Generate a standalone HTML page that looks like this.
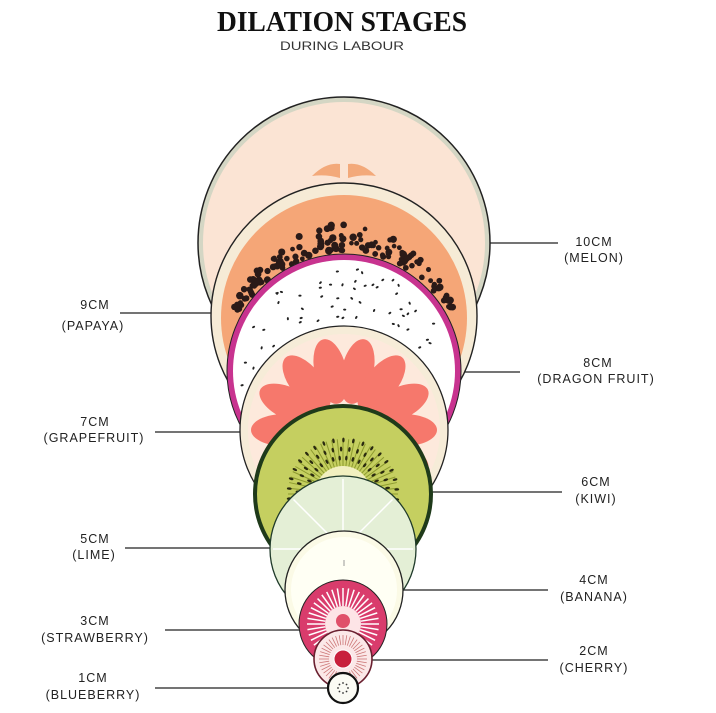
<!DOCTYPE html>
<html><head><meta charset="utf-8"><style>
html,body{margin:0;padding:0;background:#fff;}
svg{display:block;}
.l{font-family:"Liberation Sans",sans-serif;font-size:12.5px;letter-spacing:1px;fill:#222;text-anchor:middle;}
</style></head><body>
<svg id="s" width="716" height="713" viewBox="0 0 716 713" xmlns="http://www.w3.org/2000/svg">
<text x="342" y="31" text-anchor="middle" font-family="Liberation Serif,serif" font-weight="bold" font-size="29" textLength="250" lengthAdjust="spacingAndGlyphs" fill="#111">DILATION STAGES</text>
<text x="342" y="50" text-anchor="middle" font-family="Liberation Sans,sans-serif" font-size="11.5" fill="#333" textLength="124" lengthAdjust="spacingAndGlyphs">DURING LABOUR</text>
<g stroke="#222" stroke-width="1.3">
<line x1="488" y1="243" x2="558" y2="243"/>
<line x1="120" y1="313" x2="213" y2="313"/>
<line x1="458" y1="372" x2="520" y2="372"/>
<line x1="155" y1="432" x2="242" y2="432"/>
<line x1="430" y1="492" x2="562" y2="492"/>
<line x1="125" y1="548" x2="272" y2="548"/>
<line x1="402" y1="590" x2="548" y2="590"/>
<line x1="165" y1="630" x2="302" y2="630"/>
<line x1="372" y1="660" x2="548" y2="660"/>
<line x1="155" y1="688" x2="330" y2="688"/>
</g>
<g id="fr"></g>
<text class="l" x="594" y="246">10CM</text><text class="l" x="594" y="262">(MELON)</text>
<text class="l" x="95" y="309">9CM</text><text class="l" x="93" y="330">(PAPAYA)</text>
<text class="l" x="598" y="367">8CM</text><text class="l" x="596" y="383">(DRAGON FRUIT)</text>
<text class="l" x="95" y="426">7CM</text><text class="l" x="94" y="442">(GRAPEFRUIT)</text>
<text class="l" x="596" y="486">6CM</text><text class="l" x="596" y="503">(KIWI)</text>
<text class="l" x="95" y="543">5CM</text><text class="l" x="94" y="559">(LIME)</text>
<text class="l" x="594" y="584">4CM</text><text class="l" x="594" y="601">(BANANA)</text>
<text class="l" x="95" y="625">3CM</text><text class="l" x="95" y="642">(STRAWBERRY)</text>
<text class="l" x="594" y="655">2CM</text><text class="l" x="594" y="672">(CHERRY)</text>
<text class="l" x="93" y="682">1CM</text><text class="l" x="93" y="699">(BLUEBERRY)</text>
</svg>
<script>
var g=document.getElementById('fr'),h='';
function c(x,y,r,f,s,w){h+='<circle cx="'+x+'" cy="'+y+'" r="'+r+'" fill="'+f+'" stroke="'+(s||'none')+'" stroke-width="'+(w||0)+'"/>';}
var seed=7;function rnd(){seed=(seed*9301+49297)%233280;return seed/233280;}
// melon
c(344,243,146,'#d4d6c4','#222',1.5);c(344,243,141,'#fbe4d4');
h+='<path d="M312 176 Q326 162 340 164 L340 178 Q326 174 312 176Z" fill="#f3a97a"/><path d="M376 176 Q362 162 348 164 L348 178 Q362 174 376 176Z" fill="#f3a97a"/>';
// papaya
c(344,316,133,'#f6ebd6','#222',1.4);c(344,318,123,'#f5a677');
for(var i=0;i<150;i++){var t=rnd()*2-1;var a=-Math.PI/2+t*1.05,r=119+rnd()*(30-Math.abs(t)*22);h+='<circle cx="'+(344+Math.cos(a)*r)+'" cy="'+(371+Math.sin(a)*r)+'" r="'+(2.3+rnd()*1.5)+'" fill="#2a1a18"/>';}
// dragon fruit
c(344,371,117,'#c8338f','#222',1);c(344,371,111,'#ffffff');
for(var i=0;i<200;i++){var a=rnd()*Math.PI*2,r=Math.sqrt(rnd())*104;var x=344+Math.cos(a)*r,y=371+Math.sin(a)*r;var dx=x-344,dy=y-430;if(dx*dx+dy*dy<108*108)continue;h+='<ellipse cx="'+x+'" cy="'+y+'" rx="1.6" ry="1" transform="rotate('+(rnd()*180)+' '+x+' '+y+')" fill="#222"/>';}
// grapefruit
c(344,430,104,'#f6ecd8','#222',1.3);c(344,430,96,'#fde9dc');
for(var k=0;k<14;k++){var a=(k/14)*Math.PI*2;var x=344+Math.cos(a)*60,y=430+Math.sin(a)*60;h+='<ellipse cx="'+x+'" cy="'+y+'" rx="33" ry="16" transform="rotate('+(a*180/Math.PI)+' '+x+' '+y+')" fill="#f6786c"/>';}
// kiwi
c(343,494,88,'#c5cf60','#1f3a1a',4);
for(var k=0;k<60;k++){var a=k/60*Math.PI*2;h+='<line x1="343" y1="494" x2="'+(343+Math.cos(a)*55)+'" y2="'+(494+Math.sin(a)*55)+'" stroke="#8c9a2e" stroke-width="1"/>';}
c(343,494,28,'#f2f0c0');
for(var ring=0;ring<3;ring++)for(var k=0;k<34;k++){var a=k/34*Math.PI*2+ring*0.05,r=36+ring*9;h+='<ellipse cx="'+(343+Math.cos(a)*r)+'" cy="'+(494+Math.sin(a)*r)+'" rx="1.2" ry="2.4" transform="rotate('+(a*180/Math.PI+90)+' '+(343+Math.cos(a)*r)+' '+(494+Math.sin(a)*r)+')" fill="#2a2a10"/>';}
// lime
c(343,549,73,'#e4efd6','#1f3a2a',1.3);
for(var k=0;k<8;k++){var a=k/8*Math.PI*2-Math.PI/2;h+='<line x1="343" y1="549" x2="'+(343+Math.cos(a)*70)+'" y2="'+(549+Math.sin(a)*70)+'" stroke="#fff" stroke-width="1.5"/>';}
// banana
c(344,590,59,'#fbfae6','#222',1.3);c(344,590,53,'#fffff4');
h+='<line x1="344" y1="560" x2="344" y2="566" stroke="#999" stroke-width="1"/>';
// strawberry
c(343,624,44,'#d93c6c','#222',1);
for(var k=0;k<40;k++){var a=k/40*Math.PI*2;h+='<line x1="'+(343+Math.cos(a)*18)+'" y1="'+(624+Math.sin(a)*18)+'" x2="'+(343+Math.cos(a)*36)+'" y2="'+(624+Math.sin(a)*36)+'" stroke="#fff" stroke-width="1.5"/>';}
c(343,624,18,'#fde4e6');c(343,621,7,'#e0506a');
// cherry
c(343,659,29,'#fbe8e8','#6a2030',1.6);
for(var k=0;k<40;k++){var a=k/40*Math.PI*2;h+='<line x1="'+(343+Math.cos(a)*14)+'" y1="'+(659+Math.sin(a)*14)+'" x2="'+(343+Math.cos(a)*24)+'" y2="'+(659+Math.sin(a)*24)+'" stroke="#c77" stroke-width="0.8"/>';}
c(343,659,9,'#c8203c','#fff',1);
// blueberry
c(343,688,15,'#fbfbf4','#111',2.2);
for(var k=0;k<8;k++){var a=k/8*Math.PI*2;c(343+Math.cos(a)*5,688+Math.sin(a)*5,0.9,'#333');}
g.innerHTML=h;
</script>
</body></html>
